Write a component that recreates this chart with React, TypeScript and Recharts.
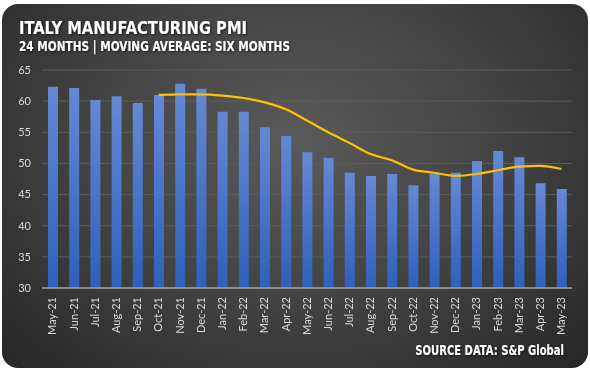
import { ComposedChart, Bar, Line, XAxis, YAxis, CartesianGrid } from "recharts";

const months = [
  "May-21", "Jun-21", "Jul-21", "Aug-21", "Sep-21", "Oct-21", "Nov-21", "Dec-21",
  "Jan-22", "Feb-22", "Mar-22", "Apr-22", "May-22", "Jun-22", "Jul-22", "Aug-22",
  "Sep-22", "Oct-22", "Nov-22", "Dec-22", "Jan-23", "Feb-23", "Mar-23", "Apr-23", "May-23",
];
const pmi = [
  62.3, 62.1, 60.2, 60.8, 59.7, 61.0, 62.8, 62.0, 58.3, 58.3, 55.8, 54.4, 51.8,
  50.9, 48.5, 48.0, 48.3, 46.5, 48.4, 48.5, 50.4, 52.0, 51.0, 46.8, 45.9,
];
const movingAvg = [
  null, null, null, null, null, 61.0, 61.1, 61.1, 60.9, 60.5, 59.8, 58.7, 56.9,
  55.0, 53.3, 51.5, 50.5, 49.0, 48.5, 48.0, 48.3, 48.9, 49.5, 49.6, 49.1,
];
const yTicks = [30, 35, 40, 45, 50, 55, 60, 65];

const data = months.map((m, i) => ({ month: m, pmi: pmi[i], avg: movingAvg[i] }));

const tickFont = "Lato, 'Open Sans', sans-serif";
const headFont = "'Liberation Sans Narrow', 'DejaVu Sans Condensed', 'Liberation Sans', sans-serif";

function MonthTick({ x, y, payload }: any) {
  return (
    <text
      x={x}
      y={y}
      dy="0.35em"
      transform={`rotate(-90, ${x}, ${y})`}
      textAnchor="end"
      fill="#d9d9d9"
      fontSize={11}
      fontFamily={tickFont}
    >
      {payload.value}
    </text>
  );
}

export default function App() {
  return (
    <div style={{ position: "absolute", left: 0, top: 0, width: 590, height: 371, background: "#fff", overflow: "hidden" }}>
      <div
        style={{
          position: "absolute",
          left: 2,
          top: 4,
          width: 586,
          height: 364,
          borderRadius: 16,
          background: "radial-gradient(ellipse at 50% 38%, #5a5a5a 0%, #404040 55%, #262626 100%)",
        }}
      />
      <svg width={590} height={371} style={{ position: "absolute", left: 0, top: 0 }}>
        <defs>
          <filter id="txtShadow" x="-5%" y="-30%" width="110%" height="160%">
            <feDropShadow dx="1" dy="1" stdDeviation="0.8" floodColor="#000" floodOpacity="0.6" />
          </filter>
        </defs>
        <g filter="url(#txtShadow)" fill="#fff" fontFamily={headFont} fontWeight="bold">
          <text x={19} y={34} fontSize={18} textLength={228} lengthAdjust="spacingAndGlyphs">ITALY MANUFACTURING PMI</text>
          <text x={19} y={51} fontSize={14} textLength={271} lengthAdjust="spacingAndGlyphs">24 MONTHS | MOVING AVERAGE: SIX MONTHS</text>
          <text transform="translate(564,355) scale(0.93,1.15)" fontSize={12} textAnchor="end">SOURCE DATA: S&amp;P Global</text>
        </g>
      </svg>
      <div style={{ position: "absolute", left: 0, top: 0 }}>
        <ComposedChart width={590} height={371} data={data} margin={{ top: 70, right: 18, left: 12, bottom: 38 }}>
          <defs>
            <linearGradient id="barFill" x1="0" y1="0" x2="0" y2="1">
              <stop offset="0%" stopColor="#6589d4" />
              <stop offset="100%" stopColor="#2e60bb" />
            </linearGradient>
          </defs>
          <CartesianGrid vertical={false} stroke="#5c5c5c" />
          <XAxis
            dataKey="month"
            interval={0}
            height={45}
            tick={<MonthTick />}
            tickLine={false}
            axisLine={{ stroke: "#c8c8c8" }}
            tickMargin={3}
          />
          <YAxis
            width={30}
            domain={[30, 65]}
            ticks={yTicks}
            allowDataOverflow
            tickLine={false}
            axisLine={false}
            tickSize={0}
            tickMargin={11}
            tick={{ fill: "#d9d9d9", fontSize: 11, fontFamily: tickFont }}
          />
          <Bar dataKey="pmi" fill="url(#barFill)" barSize={10} isAnimationActive={false} />
          <Line
            dataKey="avg"
            type="monotone"
            stroke="#ffc000"
            strokeWidth={2.2}
            dot={false}
            connectNulls={false}
            isAnimationActive={false}
          />
        </ComposedChart>
      </div>
    </div>
  );
}
